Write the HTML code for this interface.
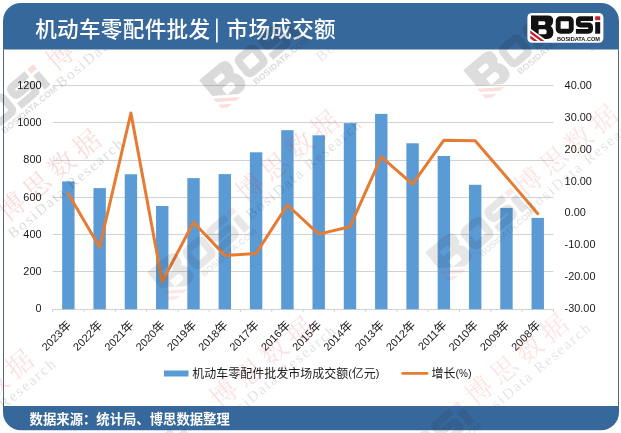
<!DOCTYPE html>
<html lang="zh-CN"><head><meta charset="utf-8"><title>机动车零配件批发 | 市场成交额</title>
<style>html,body{margin:0;padding:0;background:#fff}body{width:621px;height:433px;overflow:hidden;font-family:"Liberation Sans","Noto Sans CJK SC",sans-serif}</style></head>
<body>
<svg width="621" height="433" viewBox="0 0 621 433" style="display:block;will-change:transform;font-family:'Liberation Sans','Noto Sans CJK SC',sans-serif">
<defs><clipPath id="cpw"><rect x="0" y="49.5" width="621" height="356.5"/></clipPath><g id="wml" fill="#222"><path fill-rule="evenodd" d="M3.6 2.6H20.3Q25.8 2.6 25.8 7.6Q25.8 11.6 23.4 13.3Q26 15.2 26 19.6Q26 25.9 19.4 25.9H17.4L3.6 15.9ZM11 8.2H16.6Q18 8.2 18 10.1Q18 12.1 16.6 12.1H11ZM11.3 16.3H17.6Q19.3 16.3 19.3 18.8Q19.3 21.3 17.6 21.3H11.3Z"/><g transform="translate(0 2.6)"><rect x="30.75" y="5.75" width="13.1" height="12.5" rx="2.2" fill="none" stroke-width="4.9" stroke="#222"/><path d="M63.2 5.7H53.1Q50.9 5.7 50.9 7.9V9.8Q50.9 12 53.1 12H61Q63.2 12 63.2 14.2V16.1Q63.2 18.3 61 18.3H50.9" fill="none" stroke-width="4.8" stroke-linecap="square" stroke="#222"/><rect x="67.8" y="9.1" width="5" height="11.6"/><g transform="translate(-1 -1.5) scale(1.04 1)"><text x="29.6" y="27.6" font-size="5.5" font-weight="bold" textLength="43" lengthAdjust="spacingAndGlyphs">BOSIDATA.COM</text></g></g></g><g id="wmr" fill="#e03030"><path d="M2.9 17.6L17 27.9H13.2L2.9 20.4Z M2.9 22.6L10.2 27.9H6.4L2.9 25.4Z"/><g transform="translate(0 2.6)"><rect x="67.8" y="3.3" width="5" height="3.9"/></g></g><g id="wmt"><text x="-13.5" y="9.72" font-size="27" letter-spacing="5.5" fill="#e01818" style="font-family:'Liberation Serif','Noto Serif CJK SC',serif">博思数据</text><text x="-20" y="25.5" font-size="15" letter-spacing="1.9" fill="#111" style="font-family:'Liberation Serif',serif">BosiData Research</text></g>
</defs>
<rect width="621" height="433" fill="#fff"/>
<path d="M3 49.5V21A18 18 0 0 1 21 3H601A18 18 0 0 1 619 21V49.5Z" fill="#36689b"/>
<path d="M3 406V412.3A18 18 0 0 0 21 430.3H601A18 18 0 0 0 619 412.3V406Z" fill="#36689b"/>
<rect x="3" y="49.5" width="1" height="356.5" fill="#53677f"/>
<rect x="618" y="49.5" width="1" height="356.5" fill="#53677f"/>
<rect x="52.7" y="309" width="500.7" height="1" fill="#d2d2d2"/>
<rect x="52.7" y="271" width="500.7" height="1" fill="#d2d2d2"/>
<rect x="52.7" y="234" width="500.7" height="1" fill="#d2d2d2"/>
<rect x="52.7" y="197" width="500.7" height="1" fill="#d2d2d2"/>
<rect x="52.7" y="160" width="500.7" height="1" fill="#d2d2d2"/>
<rect x="52.7" y="122" width="500.7" height="1" fill="#d2d2d2"/>
<rect x="52.7" y="85" width="500.7" height="1" fill="#d2d2d2"/>
<rect x="52.20" y="309" width="1" height="3" fill="#d2d2d2"/>
<rect x="83.49" y="309" width="1" height="3" fill="#d2d2d2"/>
<rect x="114.79" y="309" width="1" height="3" fill="#d2d2d2"/>
<rect x="146.08" y="309" width="1" height="3" fill="#d2d2d2"/>
<rect x="177.38" y="309" width="1" height="3" fill="#d2d2d2"/>
<rect x="208.67" y="309" width="1" height="3" fill="#d2d2d2"/>
<rect x="239.96" y="309" width="1" height="3" fill="#d2d2d2"/>
<rect x="271.26" y="309" width="1" height="3" fill="#d2d2d2"/>
<rect x="302.55" y="309" width="1" height="3" fill="#d2d2d2"/>
<rect x="333.84" y="309" width="1" height="3" fill="#d2d2d2"/>
<rect x="365.14" y="309" width="1" height="3" fill="#d2d2d2"/>
<rect x="396.43" y="309" width="1" height="3" fill="#d2d2d2"/>
<rect x="427.72" y="309" width="1" height="3" fill="#d2d2d2"/>
<rect x="459.02" y="309" width="1" height="3" fill="#d2d2d2"/>
<rect x="490.31" y="309" width="1" height="3" fill="#d2d2d2"/>
<rect x="521.61" y="309" width="1" height="3" fill="#d2d2d2"/>
<rect x="552.90" y="309" width="1" height="3" fill="#d2d2d2"/>
<rect x="62.15" y="181.40" width="12.40" height="127.80" fill="#5b9bd5"/>
<rect x="93.44" y="188.10" width="12.40" height="121.10" fill="#5b9bd5"/>
<rect x="124.73" y="174.30" width="12.40" height="134.90" fill="#5b9bd5"/>
<rect x="156.03" y="206.00" width="12.40" height="103.20" fill="#5b9bd5"/>
<rect x="187.32" y="178.10" width="12.40" height="131.10" fill="#5b9bd5"/>
<rect x="218.62" y="174.10" width="12.40" height="135.10" fill="#5b9bd5"/>
<rect x="249.91" y="152.30" width="12.40" height="156.90" fill="#5b9bd5"/>
<rect x="281.20" y="130.20" width="12.40" height="179.00" fill="#5b9bd5"/>
<rect x="312.50" y="135.30" width="12.40" height="173.90" fill="#5b9bd5"/>
<rect x="343.79" y="123.20" width="12.40" height="186.00" fill="#5b9bd5"/>
<rect x="375.08" y="113.90" width="12.40" height="195.30" fill="#5b9bd5"/>
<rect x="406.38" y="143.30" width="12.40" height="165.90" fill="#5b9bd5"/>
<rect x="437.67" y="156.00" width="12.40" height="153.20" fill="#5b9bd5"/>
<rect x="468.97" y="184.80" width="12.40" height="124.40" fill="#5b9bd5"/>
<rect x="500.26" y="207.90" width="12.40" height="101.30" fill="#5b9bd5"/>
<rect x="531.55" y="217.90" width="12.40" height="91.30" fill="#5b9bd5"/>
<polyline points="68.3,193.8 99.6,247.3 130.9,113.0 162.2,281.8 193.5,222.2 224.8,255.4 256.1,253.4 287.4,205.0 318.7,234.1 350.0,226.7 381.3,156.9 412.6,184.1 443.9,140.2 475.2,140.8 506.5,177.0 537.8,213.7" fill="none" stroke="#e67c33" stroke-width="3" stroke-linejoin="round" stroke-linecap="round"/>
<text x="41.5" y="312.10" font-size="10.9" text-anchor="end" fill="#1a1a1a">0</text>
<text x="41.5" y="274.90" font-size="10.9" text-anchor="end" fill="#1a1a1a">200</text>
<text x="41.5" y="237.70" font-size="10.9" text-anchor="end" fill="#1a1a1a">400</text>
<text x="41.5" y="200.50" font-size="10.9" text-anchor="end" fill="#1a1a1a">600</text>
<text x="41.5" y="163.30" font-size="10.9" text-anchor="end" fill="#1a1a1a">800</text>
<text x="41.5" y="126.10" font-size="10.9" text-anchor="end" fill="#1a1a1a">1000</text>
<text x="41.5" y="88.90" font-size="10.9" text-anchor="end" fill="#1a1a1a">1200</text>
<text x="564.6" y="312.10" font-size="10.9" fill="#1a1a1a">-30.00</text>
<text x="564.6" y="280.21" font-size="10.9" fill="#1a1a1a">-20.00</text>
<text x="564.6" y="248.33" font-size="10.9" fill="#1a1a1a">-10.00</text>
<text x="564.6" y="216.44" font-size="10.9" fill="#1a1a1a">0.00</text>
<text x="564.6" y="184.56" font-size="10.9" fill="#1a1a1a">10.00</text>
<text x="564.6" y="152.67" font-size="10.9" fill="#1a1a1a">20.00</text>
<text x="564.6" y="120.79" font-size="10.9" fill="#1a1a1a">30.00</text>
<text x="564.6" y="88.90" font-size="10.9" fill="#1a1a1a">40.00</text>
<g transform="translate(71.95 325.80) rotate(-45)"><text x="-12.00" y="0" font-size="10.9" text-anchor="end" fill="#1a1a1a">2023</text><text x="-12.00" y="0" font-size="12" fill="#1a1a1a">年</text></g>
<g transform="translate(103.24 325.80) rotate(-45)"><text x="-12.00" y="0" font-size="10.9" text-anchor="end" fill="#1a1a1a">2022</text><text x="-12.00" y="0" font-size="12" fill="#1a1a1a">年</text></g>
<g transform="translate(134.53 325.80) rotate(-45)"><text x="-12.00" y="0" font-size="10.9" text-anchor="end" fill="#1a1a1a">2021</text><text x="-12.00" y="0" font-size="12" fill="#1a1a1a">年</text></g>
<g transform="translate(165.83 325.80) rotate(-45)"><text x="-12.00" y="0" font-size="10.9" text-anchor="end" fill="#1a1a1a">2020</text><text x="-12.00" y="0" font-size="12" fill="#1a1a1a">年</text></g>
<g transform="translate(197.12 325.80) rotate(-45)"><text x="-12.00" y="0" font-size="10.9" text-anchor="end" fill="#1a1a1a">2019</text><text x="-12.00" y="0" font-size="12" fill="#1a1a1a">年</text></g>
<g transform="translate(228.42 325.80) rotate(-45)"><text x="-12.00" y="0" font-size="10.9" text-anchor="end" fill="#1a1a1a">2018</text><text x="-12.00" y="0" font-size="12" fill="#1a1a1a">年</text></g>
<g transform="translate(259.71 325.80) rotate(-45)"><text x="-12.00" y="0" font-size="10.9" text-anchor="end" fill="#1a1a1a">2017</text><text x="-12.00" y="0" font-size="12" fill="#1a1a1a">年</text></g>
<g transform="translate(291.00 325.80) rotate(-45)"><text x="-12.00" y="0" font-size="10.9" text-anchor="end" fill="#1a1a1a">2016</text><text x="-12.00" y="0" font-size="12" fill="#1a1a1a">年</text></g>
<g transform="translate(322.30 325.80) rotate(-45)"><text x="-12.00" y="0" font-size="10.9" text-anchor="end" fill="#1a1a1a">2015</text><text x="-12.00" y="0" font-size="12" fill="#1a1a1a">年</text></g>
<g transform="translate(353.59 325.80) rotate(-45)"><text x="-12.00" y="0" font-size="10.9" text-anchor="end" fill="#1a1a1a">2014</text><text x="-12.00" y="0" font-size="12" fill="#1a1a1a">年</text></g>
<g transform="translate(384.88 325.80) rotate(-45)"><text x="-12.00" y="0" font-size="10.9" text-anchor="end" fill="#1a1a1a">2013</text><text x="-12.00" y="0" font-size="12" fill="#1a1a1a">年</text></g>
<g transform="translate(416.18 325.80) rotate(-45)"><text x="-12.00" y="0" font-size="10.9" text-anchor="end" fill="#1a1a1a">2012</text><text x="-12.00" y="0" font-size="12" fill="#1a1a1a">年</text></g>
<g transform="translate(447.47 325.80) rotate(-45)"><text x="-12.00" y="0" font-size="10.9" text-anchor="end" fill="#1a1a1a">2011</text><text x="-12.00" y="0" font-size="12" fill="#1a1a1a">年</text></g>
<g transform="translate(478.77 325.80) rotate(-45)"><text x="-12.00" y="0" font-size="10.9" text-anchor="end" fill="#1a1a1a">2010</text><text x="-12.00" y="0" font-size="12" fill="#1a1a1a">年</text></g>
<g transform="translate(510.06 325.80) rotate(-45)"><text x="-12.00" y="0" font-size="10.9" text-anchor="end" fill="#1a1a1a">2009</text><text x="-12.00" y="0" font-size="12" fill="#1a1a1a">年</text></g>
<g transform="translate(541.35 325.80) rotate(-45)"><text x="-12.00" y="0" font-size="10.9" text-anchor="end" fill="#1a1a1a">2008</text><text x="-12.00" y="0" font-size="12" fill="#1a1a1a">年</text></g>
<rect x="164" y="370.5" width="24.5" height="6" fill="#5b9bd5"/>
<text x="192.20" y="377.80" font-size="12" fill="#1a1a1a">机动车零配件批发市场成交额</text><text x="348.20" y="377.20" font-size="10.9" fill="#1a1a1a">(</text><text x="351.83" y="377.80" font-size="12" fill="#1a1a1a">亿元</text><text x="375.83" y="377.20" font-size="10.9" fill="#1a1a1a">)</text>
<rect x="401.3" y="372" width="27.2" height="2.8" rx="1.4" fill="#e67c33"/>
<text x="431.40" y="377.80" font-size="12" fill="#1a1a1a">增长</text><text x="455.40" y="377.20" font-size="10.9" fill="#1a1a1a">(</text><text x="459.03" y="377.20" font-size="10" fill="#1a1a1a">%</text><text x="467.92" y="377.20" font-size="10.9" fill="#1a1a1a">)</text>
<text x="35.20" y="37.40" font-size="21.6" font-weight="500" letter-spacing="0.3" fill="#fff">机动车零配件批发</text>
<rect x="216" y="18.6" width="1.7" height="23.8" fill="#fff"/>
<text x="226.50" y="37.40" font-size="21.6" font-weight="500" letter-spacing="0.3" fill="#fff">市场成交额</text>
<text x="29.6" y="424.2" font-size="13.35" font-weight="bold" fill="#fff">数据来源：统计局、博思数据整理</text>
<g opacity="0.16"><use href="#wml" transform="translate(-59.1 129.7) rotate(-40) scale(1.55)"/></g><g opacity="0.16"><use href="#wml" transform="translate(192.3 80.7) rotate(-40) scale(1.55)"/></g><g opacity="0.15"><use href="#wml" transform="translate(456.4 70.7) rotate(-40) scale(1.55)"/></g><g opacity="0.1"><use href="#wml" transform="translate(140.3 272.7) rotate(-40) scale(1.55)"/></g><g opacity="0.105"><use href="#wml" transform="translate(418.2 252.9) rotate(-40) scale(1.55)"/></g><g opacity="0.1"><use href="#wml" transform="translate(86.3 486.7) rotate(-40) scale(1.55)"/></g><g opacity="0.1"><use href="#wml" transform="translate(365.3 466.7) rotate(-40) scale(1.55)"/></g><g clip-path="url(#cpw)"><g opacity="0.14"><use href="#wmt" transform="translate(60.0 56.0) rotate(-40)"/></g><g opacity="0.15"><use href="#wmt" transform="translate(12.0 206.5) rotate(-40)"/></g><g opacity="0.13"><use href="#wmt" transform="translate(250.0 187.5) rotate(-40)"/></g><g opacity="0.11"><use href="#wmt" transform="translate(528.9 181.8) rotate(-40)"/></g><g opacity="0.13"><use href="#wmt" transform="translate(-55.7 426.7) rotate(-40)"/></g><g opacity="0.12"><use href="#wmt" transform="translate(224.1 393.5) rotate(-40)"/></g><g opacity="0.11"><use href="#wmt" transform="translate(479.2 390.7) rotate(-40)"/></g><g opacity="0.1"><use href="#wmt" transform="translate(320.0 30.0) rotate(-40)"/></g><g opacity="0.1"><use href="#wmt" transform="translate(590.0 20.0) rotate(-40)"/></g><g opacity="0.16"><use href="#wmr" transform="translate(-59.1 129.7) rotate(-40) scale(1.55)"/></g><g opacity="0.16"><use href="#wmr" transform="translate(192.3 80.7) rotate(-40) scale(1.55)"/></g><g opacity="0.15"><use href="#wmr" transform="translate(456.4 70.7) rotate(-40) scale(1.55)"/></g><g opacity="0.1"><use href="#wmr" transform="translate(140.3 272.7) rotate(-40) scale(1.55)"/></g><g opacity="0.105"><use href="#wmr" transform="translate(418.2 252.9) rotate(-40) scale(1.55)"/></g><g opacity="0.1"><use href="#wmr" transform="translate(86.3 486.7) rotate(-40) scale(1.55)"/></g><g opacity="0.1"><use href="#wmr" transform="translate(365.3 466.7) rotate(-40) scale(1.55)"/></g></g>
<g transform="translate(527.4 13)"><rect width="76" height="29.7" rx="4.5" fill="#fff"/><g fill="#111"><path fill-rule="evenodd" d="M3.6 2.6H20.3Q25.8 2.6 25.8 7.6Q25.8 11.6 23.4 13.3Q26 15.2 26 19.6Q26 25.9 19.4 25.9H17.4L3.6 15.9ZM11 8.2H16.6Q18 8.2 18 10.1Q18 12.1 16.6 12.1H11ZM11.3 16.3H17.6Q19.3 16.3 19.3 18.8Q19.3 21.3 17.6 21.3H11.3Z"/><rect x="30.75" y="5.75" width="13.1" height="12.5" rx="2.2" fill="none" stroke-width="4.9" stroke="#111"/><path d="M63.2 5.7H53.1Q50.9 5.7 50.9 7.9V9.8Q50.9 12 53.1 12H61Q63.2 12 63.2 14.2V16.1Q63.2 18.3 61 18.3H50.9" fill="none" stroke-width="4.8" stroke-linecap="square" stroke="#111"/><rect x="67.8" y="9.1" width="5" height="11.6"/></g><g fill="#c8202f"><path d="M2.9 17.6L17 27.9H13.2L2.9 20.4Z M2.9 22.6L10.2 27.9H6.4L2.9 25.4Z"/><rect x="67.8" y="3.3" width="5" height="3.9"/></g><g fill="#111"><text x="29.6" y="27.6" font-size="5.5" font-weight="bold" textLength="43" lengthAdjust="spacingAndGlyphs">BOSIDATA.COM</text></g></g>
</svg>
</body></html>
